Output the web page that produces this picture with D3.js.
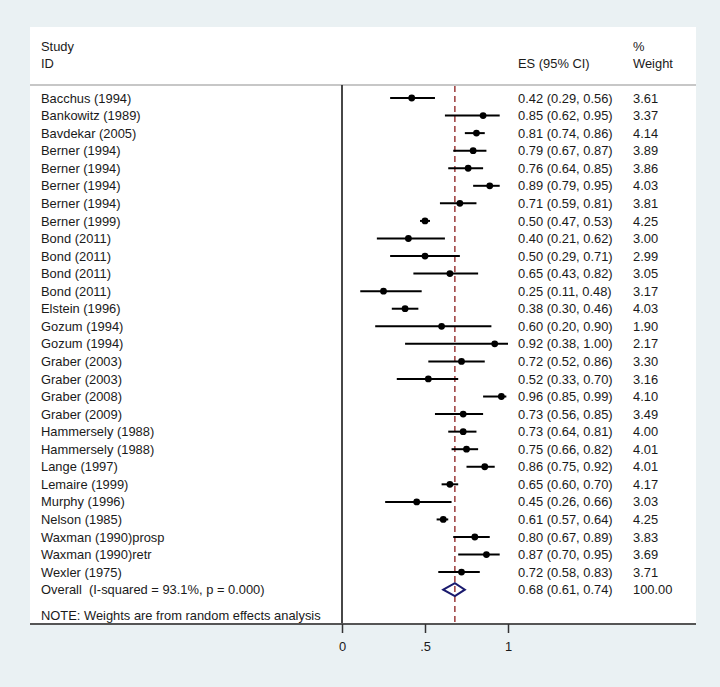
<!DOCTYPE html>
<html><head><meta charset="utf-8">
<script src="https://cdn.jsdelivr.net/npm/d3@7"></script>
<style>
html,body{margin:0;padding:0;background:#eaf1f3;}
text{font-family:"Liberation Sans",Arial,sans-serif;fill:#1a1a1a;white-space:pre;}
</style></head>
<body><svg id="c" width="720" height="687"></svg>
<script>
const studies = ["Bacchus (1994)","Bankowitz (1989)","Bavdekar (2005)","Berner (1994)","Berner (1994)","Berner (1994)","Berner (1994)","Berner (1999)","Bond (2011)","Bond (2011)","Bond (2011)","Bond (2011)","Elstein (1996)","Gozum (1994)","Gozum (1994)","Graber (2003)","Graber (2003)","Graber (2008)","Graber (2009)","Hammersely (1988)","Hammersely (1988)","Lange (1997)","Lemaire (1999)","Murphy (1996)","Nelson (1985)","Waxman (1990)prosp","Waxman (1990)retr","Wexler (1975)"];
const es    = [0.42,0.85,0.81,0.79,0.76,0.89,0.71,0.50,0.40,0.50,0.65,0.25,0.38,0.60,0.92,0.72,0.52,0.96,0.73,0.73,0.75,0.86,0.65,0.45,0.61,0.80,0.87,0.72];
const lower = [0.29,0.62,0.74,0.67,0.64,0.79,0.59,0.47,0.21,0.29,0.43,0.11,0.30,0.20,0.38,0.52,0.33,0.85,0.56,0.64,0.66,0.75,0.60,0.26,0.57,0.67,0.70,0.58];
const upper = [0.56,0.95,0.86,0.87,0.85,0.95,0.81,0.53,0.62,0.71,0.82,0.48,0.46,0.90,1.00,0.86,0.70,0.99,0.85,0.81,0.82,0.92,0.70,0.66,0.64,0.89,0.95,0.83];
const weights = ["3.61","3.37","4.14","3.89","3.86","4.03","3.81","4.25","3.00","2.99","3.05","3.17","4.03","1.90","2.17","3.30","3.16","4.10","3.49","4.00","4.01","4.01","4.17","3.03","4.25","3.83","3.69","3.71"];
const overallLabel = "Overall  (I-squared = 93.1%, p = 0.000)";
const overall = {es:0.68, lo:0.61, hi:0.74, w:"100.00"};
const note = "NOTE: Weights are from random effects analysis";
const xTicks = [0, 0.5, 1];
const xTickLabels = ["0", ".5", "1"];

const fmt = d3.format(".2f");
const svg = d3.select("#c");
const x = d3.scaleLinear().domain([0,1]).range([342,508]);
const y = d3.scaleLinear().domain([0,28]).range([98, 98+28*17.56]);
const pTop = 85, pBottom = 624, pLeft = 30, pRight = 696;

svg.append("rect").attr("x",pLeft).attr("y",27).attr("width",pRight-pLeft).attr("height",pBottom-27).attr("fill","#fff");

// header
const fs = "12.9px";
svg.append("text").attr("x",41).attr("y",51).style("font-size",fs).text("Study");
svg.append("text").attr("x",41).attr("y",68).style("font-size",fs).text("ID");
svg.append("text").attr("x",518).attr("y",68).style("font-size",fs).text("ES (95% CI)");
svg.append("text").attr("x",633).attr("y",51).style("font-size",fs).text("%");
svg.append("text").attr("x",633).attr("y",68).style("font-size",fs).text("Weight");
svg.append("line").attr("x1",pLeft).attr("x2",pRight).attr("y1",pTop).attr("y2",pTop).attr("stroke","#b4b4b4").attr("stroke-width",1.6);

// null line
svg.append("line").attr("x1",x(0)).attr("x2",x(0)).attr("y1",pTop).attr("y2",pBottom).attr("stroke","#333").attr("stroke-width",1.8);
// overall dashed line
svg.append("line").attr("x1",x(overall.es)).attr("x2",x(overall.es)).attr("y1",pTop+1).attr("y2",pBottom).attr("stroke","#8b1c1c").attr("stroke-width",1.3).attr("stroke-dasharray","6,4");

const rows = studies.map((s,i)=>({s,i,es:es[i],lo:lower[i],hi:upper[i],w:weights[i]}));
const g = svg.append("g");
g.selectAll("line.ci").data(rows).join("line").attr("class","ci")
 .attr("x1",d=>x(d.lo)).attr("x2",d=>x(d.hi)).attr("y1",d=>y(d.i)).attr("y2",d=>y(d.i))
 .attr("stroke","#000").attr("stroke-width",2);
g.selectAll("circle").data(rows).join("circle")
 .attr("cx",d=>x(d.es)).attr("cy",d=>y(d.i)).attr("r",3.4).attr("fill","#000");
g.selectAll("text.st").data(rows).join("text").attr("class","st")
 .attr("x",41).attr("y",d=>y(d.i)+4.6).style("font-size",fs).text(d=>d.s);
g.selectAll("text.es").data(rows).join("text").attr("class","es")
 .attr("x",518).attr("y",d=>y(d.i)+4.6).style("font-size",fs).text(d=>`${fmt(d.es)} (${fmt(d.lo)}, ${fmt(d.hi)})`);
g.selectAll("text.w").data(rows).join("text").attr("class","w")
 .attr("x",633).attr("y",d=>y(d.i)+4.6).style("font-size",fs).text(d=>d.w);

// overall
const oy = y(28);
svg.append("text").attr("x",41).attr("y",oy+4.6).style("font-size",fs).text(overallLabel);
svg.append("polygon").attr("points",[[x(overall.lo),oy],[x(overall.es),oy-6.5],[x(overall.hi),oy],[x(overall.es),oy+6.5]].map(p=>p.join(",")).join(" "))
 .attr("fill","none").attr("stroke","#1a1a6e").attr("stroke-width",2);
svg.append("text").attr("x",518).attr("y",oy+4.6).style("font-size",fs).text(`${fmt(overall.es)} (${fmt(overall.lo)}, ${fmt(overall.hi)})`);
svg.append("text").attr("x",633).attr("y",oy+4.6).style("font-size",fs).text(overall.w);
svg.append("text").attr("x",41).attr("y",620).style("font-size",fs).text(note);

// axis
svg.append("line").attr("x1",pLeft).attr("x2",pRight).attr("y1",pBottom).attr("y2",pBottom).attr("stroke","#555").attr("stroke-width",1.8);
const ax = svg.append("g").attr("transform",`translate(0,${pBottom})`)
 .call(d3.axisBottom(x).tickValues(xTicks).tickFormat((d,i)=>xTickLabels[i]).tickSize(9).tickPadding(9));
ax.select(".domain").remove();
ax.selectAll(".tick line").attr("stroke","#333").attr("stroke-width",1.5);
ax.selectAll(".tick text").style("font-size","12.9px").style("font-family","Liberation Sans, Arial, sans-serif").attr("fill","#1a1a1a");
</script></body></html>
